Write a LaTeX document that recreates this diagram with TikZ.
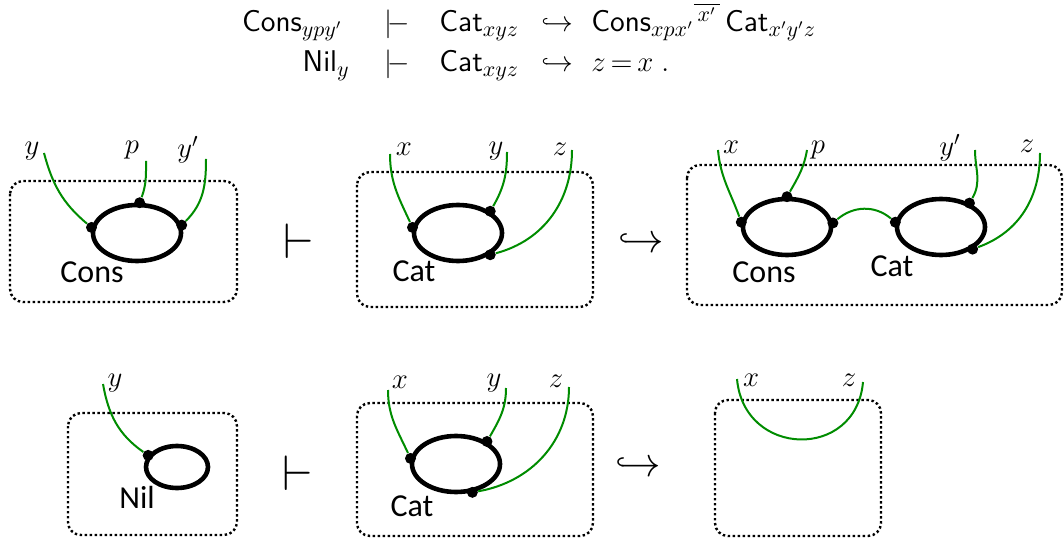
\documentclass[tikz,border=0pt]{standalone}
\usepackage{amsmath}
\usepackage{fontspec}
\newfontfamily\agentfont{Carlito}
\usetikzlibrary{shapes.geometric}
\definecolor{wiregreen}{RGB}{0,140,0}

\begin{document}
\begin{tikzpicture}[x=0.5pt, y=-0.5pt]
  \tikzset{
    frame/.style={line width=1.2pt, dash pattern=on 1.2pt off 1.3pt, rounded corners=6.5pt},
    agent/.style={ellipse, draw, line width=2.3pt, inner sep=0pt, minimum width=44pt, minimum height=28pt},
    port/.style={circle, fill, inner sep=0pt, minimum size=5.5pt},
    wire/.style={wiregreen, line width=1pt},
    var/.style={inner sep=0pt, font=\fontsize{14.5}{17}\selectfont},
    tag/.style={inner sep=0pt, font=\agentfont\fontsize{16}{18}\selectfont},
    eq/.style={inner sep=0pt, font=\fontsize{15}{18}\selectfont},
    turn/.style={inner sep=0pt, font=\fontsize{27}{30}\selectfont},
    hook/.style={inner sep=0pt, font=\fontsize{20}{23}\selectfont}
  }
  \useasboundingbox (0,0) rectangle (1064,539);

  % rules
  \node[eq, anchor=base east] (eqlhs1) at (343,32) {$\mathsf{Cons}_{ypy'}$};
  \node[eq, anchor=base west] (eqvd1) at (384,32) {$|\!{-}$};
  \node[eq, anchor=base west] (eqcat1) at (439,32) {$\mathsf{Cat}_{xyz}$};
  \node[eq, anchor=base west] (eqhk1) at (541,32) {$\hookrightarrow$};
  \node[eq, anchor=base west] (eqrhs1) at (591,32) {$\mathsf{Cons}_{xpx'}{}^{\overline{\,x'\,}}\,\mathsf{Cat}_{x'y'z}$};
  \node[eq, anchor=base east] (eqlhs2) at (350,72) {$\mathsf{Nil}_y$};
  \node[eq, anchor=base west] (eqvd2) at (384,72) {$|\!{-}$};
  \node[eq, anchor=base west] (eqcat2) at (439,72) {$\mathsf{Cat}_{xyz}$};
  \node[eq, anchor=base west] (eqhk2) at (541,72) {$\hookrightarrow$};
  \node[eq, anchor=base west] (eqrhs2) at (591,72) {$z\,{=}\,x\;.$};

  % Cons agent
  \draw[frame] (10,181) rectangle (237,302);
  \node[agent] (consA) at (137,233) {};
  \node[port] (consAy) at (consA.173) {};
  \node[port] (consAp) at (consA.85) {};
  \node[port] (consAyy) at (consA.10) {};
  \coordinate (Ay) at (44,153);
  \coordinate (Ap) at (146,161);
  \coordinate (Ayy) at (206,159);
  \draw[wire] (Ay) to[out=-75, in=140] (consAy);
  \draw[wire] (Ap) to[out=-90, in=70] (consAp);
  \draw[wire] (Ayy) to[out=-90, in=45] (consAyy);
  \node[var] (lAy) at (32,151) {$y$};
  \node[var] (lAp) at (132,150) {$p$};
  \node[var] (lAyy) at (188,150) {$y'$};
  \node[tag] (tAcons) at (92,272) {Cons};

  \node[turn] (vd1) at (299,241) {$\vdash$};

  % Cat agent
  \draw[frame] (357,172) rectangle (593,307);
  \node[agent] (catB) at (458,233) {};
  \node[port] (catBx) at (catB.173) {};
  \node[port] (catBy) at (catB.34) {};
  \node[port] (catBz) at (catB.-34) {};
  \coordinate (Bx) at (390,154);
  \coordinate (By) at (507,152);
  \coordinate (Bz) at (572,150);
  \draw[wire] (Bx) to[out=-90, in=115] (catBx);
  \draw[wire] (By) to[out=-90, in=60] (catBy);
  \draw[wire] (Bz) to[out=-90, in=15] (catBz);
  \node[var] (lBx) at (404,149) {$x$};
  \node[var] (lBy) at (496,151) {$y$};
  \node[var] (lBz) at (560,149) {$z$};
  \node[tag] (tBcat) at (414,271) {Cat};

  \node[hook] (hk1) at (641,243) {$\hookrightarrow$};

  % Cons then Cat
  \draw[frame] (687,165) rectangle (1062,305);
  \node[agent] (consC) at (787,227) {};
  \node[agent] (catC) at (941,227) {};
  \node[port] (consCx) at (consC.174) {};
  \node[port] (consCp) at (consC.90) {};
  \node[port] (consCl) at (consC.5) {};
  \node[port] (catCl) at (catC.174) {};
  \node[port] (catCy) at (catC.40) {};
  \node[port] (catCz) at (catC.-35) {};
  \coordinate (Cx) at (718,150);
  \coordinate (Cp) at (807,150);
  \coordinate (Cy) at (975,150);
  \coordinate (Cz) at (1040,153);
  \draw[wire] (Cx) to[out=-85, in=110] (consCx);
  \draw[wire] (Cp) to[out=-100, in=60] (consCp);
  \draw[wire] (consCl) to[out=40, in=140] (catCl);
  \draw[wire] (Cy) to[out=-90, in=60] (catCy);
  \draw[wire] (Cz) to[out=-90, in=20] (catCz);
  \node[var] (lCx) at (731,147) {$x$};
  \node[var] (lCp) at (818,150) {$p$};
  \node[var] (lCy) at (950,148) {$y'$};
  \node[var] (lCz) at (1027,146) {$z$};
  \node[tag] (tCcons) at (764,272) {Cons};
  \node[tag] (tCcat) at (892,266) {Cat};

  % Nil agent
  \draw[frame] (68,413) rectangle (237,535);
  \node[agent, minimum width=31pt, minimum height=21pt] (nilD) at (177,467) {};
  \node[port] (nilDy) at (nilD.158) {};
  \coordinate (Dy) at (103,384);
  \draw[wire] (Dy) to[out=-80, in=145] (nilDy);
  \node[var] (lDy) at (115,383) {$y$};
  \node[tag] (tDnil) at (137,497) {Nil};

  \node[turn] (vd2) at (298,473) {$\vdash$};

  % Cat agent again
  \draw[frame] (357,403) rectangle (593,536);
  \node[agent] (catE) at (456,464) {};
  \node[port] (catEx) at (catE.173) {};
  \node[port] (catEy) at (catE.36) {};
  \node[port] (catEz) at (catE.-60) {};
  \coordinate (Ex) at (388,390);
  \coordinate (Ey) at (506,388);
  \coordinate (Ez) at (569,387);
  \draw[wire] (Ex) to[out=-90, in=115] (catEx);
  \draw[wire] (Ey) to[out=-90, in=60] (catEy);
  \draw[wire] (Ez) to[out=-90, in=10] (catEz);
  \node[var] (lEx) at (400,382) {$x$};
  \node[var] (lEy) at (494,383) {$y$};
  \node[var] (lEz) at (556,381) {$z$};
  \node[tag] (tEcat) at (412,506) {Cat};

  \node[hook] (hk2) at (638,467) {$\hookrightarrow$};

  % z = x
  \draw[frame] (715,400) rectangle (881,536);
  \coordinate (Fx) at (737,379);
  \coordinate (Fz) at (863,382);
  \draw[wire] (Fx) to[out=-85, in=-95, looseness=1.6] (Fz);
  \node[var] (lFx) at (751,380) {$x$};
  \node[var] (lFz) at (849,380) {$z$};
\end{tikzpicture}
\end{document}
